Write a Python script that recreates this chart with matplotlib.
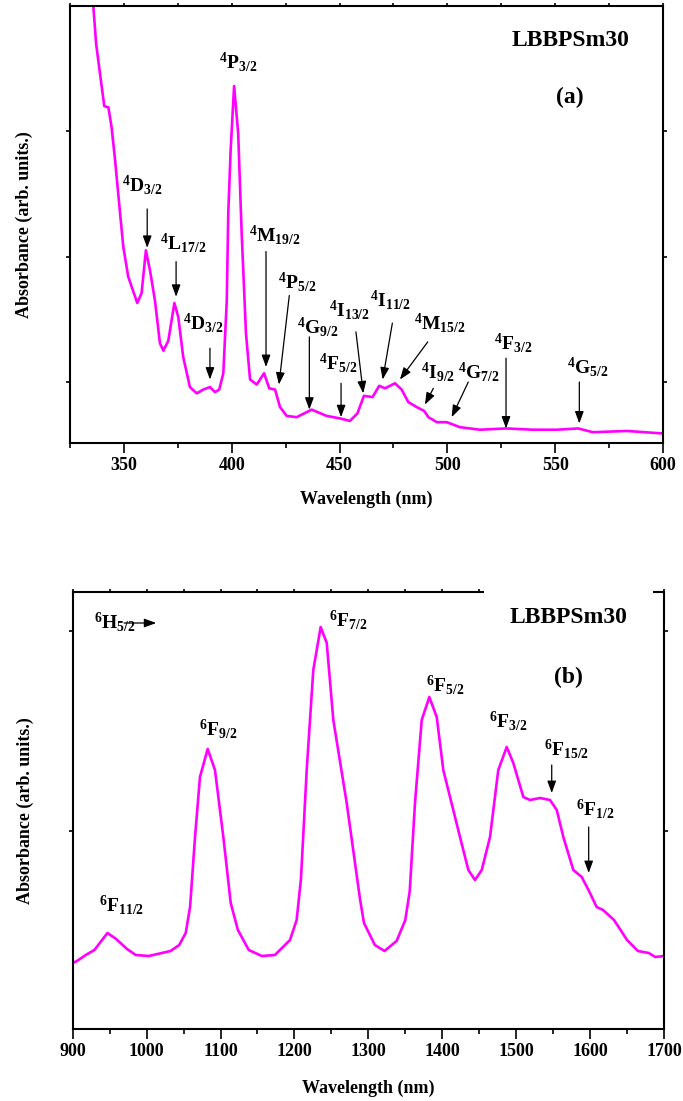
import matplotlib
matplotlib.use('Agg')
import matplotlib.pyplot as plt
from matplotlib.patches import Rectangle
from matplotlib.ticker import MultipleLocator

plt.rcParams['font.family'] = ['Liberation Serif', 'DejaVu Serif']
plt.rcParams['font.weight'] = 'bold'
plt.rcParams['mathtext.fontset'] = 'custom'
plt.rcParams['mathtext.rm'] = 'Liberation Serif:bold'
plt.rcParams['mathtext.bf'] = 'Liberation Serif:bold'
plt.rcParams['mathtext.default'] = 'rm'

# (a) UV-Vis spectrum
wl_a = [334.5, 335.8, 337.1, 338.9, 340.9, 342.8, 344.3, 345.9, 348.2, 349.7,
        352.0, 356.2, 358.2, 360.2, 362.1, 364.4, 366.7, 368.3, 370.6, 373.4,
        375.2, 377.5, 380.6, 383.8, 386.8, 389.9, 392.2, 394.2, 396.1, 397.7,
        398.4, 399.5, 401.1, 403.0, 404.6, 406.6, 408.5, 411.6, 415.0, 417.4,
        420.1, 422.4, 425.5, 430.1, 437.1, 444.0, 450.2, 454.8, 458.3, 461.3,
        465.3, 468.4, 471.1, 475.7, 478.8, 481.9, 485.8, 489.2, 491.2, 495.1,
        499.7, 505.9, 515.1, 527.2, 539.8, 550.7, 560.7, 567.5, 583.2, 599.9]
abs_a = [4.30, 4.00, 3.70, 3.46, 3.20, 3.19, 3.03, 2.77, 2.35, 2.08,
         1.84, 1.63, 1.71, 2.05, 1.89, 1.65, 1.31, 1.25, 1.33, 1.63,
         1.52, 1.20, 0.96, 0.91, 0.94, 0.96, 0.92, 0.94, 1.07, 1.65,
         2.35, 2.85, 3.36, 2.98, 2.19, 1.39, 1.02, 0.98, 1.07, 0.95,
         0.94, 0.80, 0.73, 0.72, 0.78, 0.73, 0.71, 0.69, 0.75, 0.89,
         0.88, 0.97, 0.95, 0.99, 0.94, 0.84, 0.80, 0.77, 0.72, 0.68,
         0.68, 0.64, 0.62, 0.63, 0.62, 0.62, 0.63, 0.60, 0.61, 0.59]

# (b) NIR spectrum
wl_b = [900, 905.9, 917.6, 929.4, 947, 958.8, 973.5, 985.3, 1002.9, 1032.4,
        1044.1, 1052.9, 1058.8, 1065.5, 1072.2, 1082.6, 1092.5, 1103.8, 1113.8, 1123.5,
        1138.2, 1155.9, 1173.5, 1194, 1203, 1208.8, 1216.6, 1225.5, 1235.5, 1243.7,
        1252.6, 1270.7, 1288.7, 1294.1, 1308.8, 1321.8, 1338.2, 1350, 1356, 1363.1,
        1372.2, 1382.5, 1392.5, 1401.4, 1410.5, 1424, 1435.3, 1444.3, 1453.4, 1464.6,
        1475.8, 1487.2, 1496.1, 1509.7, 1518.7, 1532.3, 1545.8, 1554.9, 1563.8, 1577.3,
        1588.7, 1599.9, 1608.8, 1617.6, 1632.4, 1650, 1664.7, 1679.4, 1688.2, 1700]
abs_b = [0.34, 0.35, 0.38, 0.405, 0.49, 0.46, 0.41, 0.38, 0.375, 0.40,
         0.43, 0.49, 0.62, 0.97, 1.27, 1.41, 1.305, 0.97, 0.64, 0.505,
         0.405, 0.375, 0.38, 0.455, 0.555, 0.76, 1.305, 1.805, 2.02, 1.94,
         1.555, 1.14, 0.66, 0.54, 0.43, 0.40, 0.45, 0.555, 0.70, 1.14,
         1.555, 1.67, 1.57, 1.305, 1.17, 0.97, 0.805, 0.755, 0.805, 0.97,
         1.305, 1.42, 1.34, 1.17, 1.155, 1.165, 1.155, 1.105, 0.97, 0.805,
         0.77, 0.69, 0.62, 0.605, 0.555, 0.455, 0.40, 0.39, 0.37, 0.375]

# labels: (text, x, y, arrow tail, arrow tip)
labels_a = [
    (r'${}^{4}P_{3/2}$', 402.9, 3.55, None, None),
    (r'${}^{4}D_{3/2}$', 358.7, 2.57, (360.8, 2.38), (360.8, 2.07)),
    (r'${}^{4}L_{17/2}$', 377.5, 2.11, (374.2, 1.96), (374.2, 1.68)),
    (r'${}^{4}D_{3/2}$', 386.8, 1.47, (389.9, 1.27), (389.9, 1.02)),
    (r'${}^{4}M_{19/2}$', 420.1, 2.17, (415.9, 2.04), (415.9, 1.12)),
    (r'${}^{4}P_{5/2}$', 430.4, 1.80, (426.7, 1.69), (421.9, 0.98)),
    (r'${}^{4}G_{9/2}$', 440.1, 1.44, (436.0, 1.36), (436.0, 0.78)),
    (r'${}^{4}F_{5/2}$', 449.4, 1.15, (450.7, 0.99), (450.7, 0.72)),
    (r'${}^{4}I_{13/2}$', 454.8, 1.57, (457.6, 1.40), (461.0, 0.91)),
    (r'${}^{4}I_{11/2}$', 473.4, 1.65, (474.5, 1.47), (470.0, 1.02)),
    (r'${}^{4}M_{15/2}$', 496.6, 1.47, (490.9, 1.32), (478.0, 1.02)),
    (r'${}^{4}I_{9/2}$', 495.6, 1.08, (493.5, 0.95), (489.6, 0.82)),
    (r'${}^{4}G_{7/2}$', 514.6, 1.08, (509.7, 1.00), (502.0, 0.72)),
    (r'${}^{4}F_{3/2}$', 530.6, 1.31, (527.2, 1.19), (527.2, 0.63)),
    (r'${}^{4}G_{5/2}$', 565.3, 1.12, (561.2, 1.00), (561.2, 0.67)),
]

labels_b = [
    (r'${}^{6}H_{5/2}$', 957.4, 2.045, (969.5, 2.04), (1013.0, 2.04)),
    (r'${}^{6}F_{11/2}$', 966.8, 0.63, None, None),
    (r'${}^{6}F_{9/2}$', 1097.0, 1.51, None, None),
    (r'${}^{6}F_{7/2}$', 1272.9, 2.055, None, None),
    (r'${}^{6}F_{5/2}$', 1403.7, 1.73, None, None),
    (r'${}^{6}F_{3/2}$', 1489.4, 1.55, None, None),
    (r'${}^{6}F_{15/2}$', 1568.4, 1.41, (1548.1, 1.33), (1548.1, 1.19)),
    (r'${}^{6}F_{1/2}$', 1606.7, 1.11, (1598.1, 1.02), (1598.1, 0.79)),
]

W, H = 683, 1101
fig = plt.figure(figsize=(W / 100, H / 100), dpi=100)
ax1 = fig.add_axes([70 / W, (H - 443) / H, 593 / W, 437 / H])
ax2 = fig.add_axes([72.7 / W, (H - 1029) / H, 591.3 / W, 437 / H])

arrow_kw = dict(arrowstyle='-|>,head_length=0.6,head_width=0.22', color='black',
                lw=0.9, mutation_scale=12, shrinkA=0, shrinkB=0)


def style_axes(ax, xlabel_y):
    for sp in ax.spines.values():
        sp.set_linewidth(1.5)
    ax.tick_params(which='both', direction='out', top=True, right=True,
                   labelsize=13, width=1.2, pad=3)
    ax.tick_params(which='major', axis='x', bottom=True, length=7)
    ax.tick_params(which='minor', axis='x', length=3.5)
    ax.tick_params(axis='y', which='major', length=3, labelleft=False)
    # tiny ticks on top frame
    for t in ax.xaxis.get_major_ticks() + ax.xaxis.get_minor_ticks():
        t.tick2line.set_markersize(2)
    ax.set_xlabel('Wavelength (nm)', fontsize=13, fontweight='bold')
    ax.set_ylabel('Absorbance (arb. units.)', fontsize=13, fontweight='bold')
    ax.xaxis.set_label_coords(0.5, xlabel_y)


# panel (a)
ax1.plot(wl_a, abs_a, color='#ff00ff', lw=1.9)
ax1.set_xlim(325, 600)
ax1.set_ylim(0.514, 3.998)
ax1.xaxis.set_major_locator(MultipleLocator(50))
ax1.xaxis.set_minor_locator(MultipleLocator(25))
ax1.set_yticks([1, 2, 3])
style_axes(ax1, -0.11)
ax1.yaxis.set_label_coords(-0.062, 0.5)

for txt, tx, ty, tail, tip in labels_a:
    ax1.text(tx, ty, txt, fontsize=14, ha='center', va='center')
    if tail is not None:
        ax1.annotate('', xy=tip, xytext=tail, arrowprops=arrow_kw)
ax1.text(557.3, 3.72, 'LBBPSm30', fontsize=17, ha='center', va='center')
ax1.text(556.9, 3.27, '(a)', fontsize=17, ha='center', va='center')

# panel (b)
ax2.plot(wl_b, abs_b, color='#ff00ff', lw=1.9)
ax2.set_xlim(900, 1700)
ax2.set_ylim(0.01, 2.195)
ax2.xaxis.set_major_locator(MultipleLocator(100))
ax2.xaxis.set_minor_locator(MultipleLocator(50))
ax2.set_yticks([1, 2])
style_axes(ax2, -0.115)
ax2.yaxis.set_label_coords(-0.066, 0.5)

for txt, tx, ty, tail, tip in labels_b:
    ax2.text(tx, ty, txt, fontsize=14, ha='center', va='center')
    if tail is not None:
        ax2.annotate('', xy=tip, xytext=tail, arrowprops=arrow_kw)
ax2.text(1570.5, 2.07, 'LBBPSm30', fontsize=17, ha='center', va='center')
ax2.text(1570.5, 1.77, '(b)', fontsize=17, ha='center', va='center')

# white box hiding part of the top frame of panel (b)
fig.add_artist(Rectangle((484 / W, (H - 599) / H), 169 / W, 20 / H,
                         transform=fig.transFigure, facecolor='white',
                         edgecolor='none', zorder=5))

fig.savefig('out.png', dpi=100)
